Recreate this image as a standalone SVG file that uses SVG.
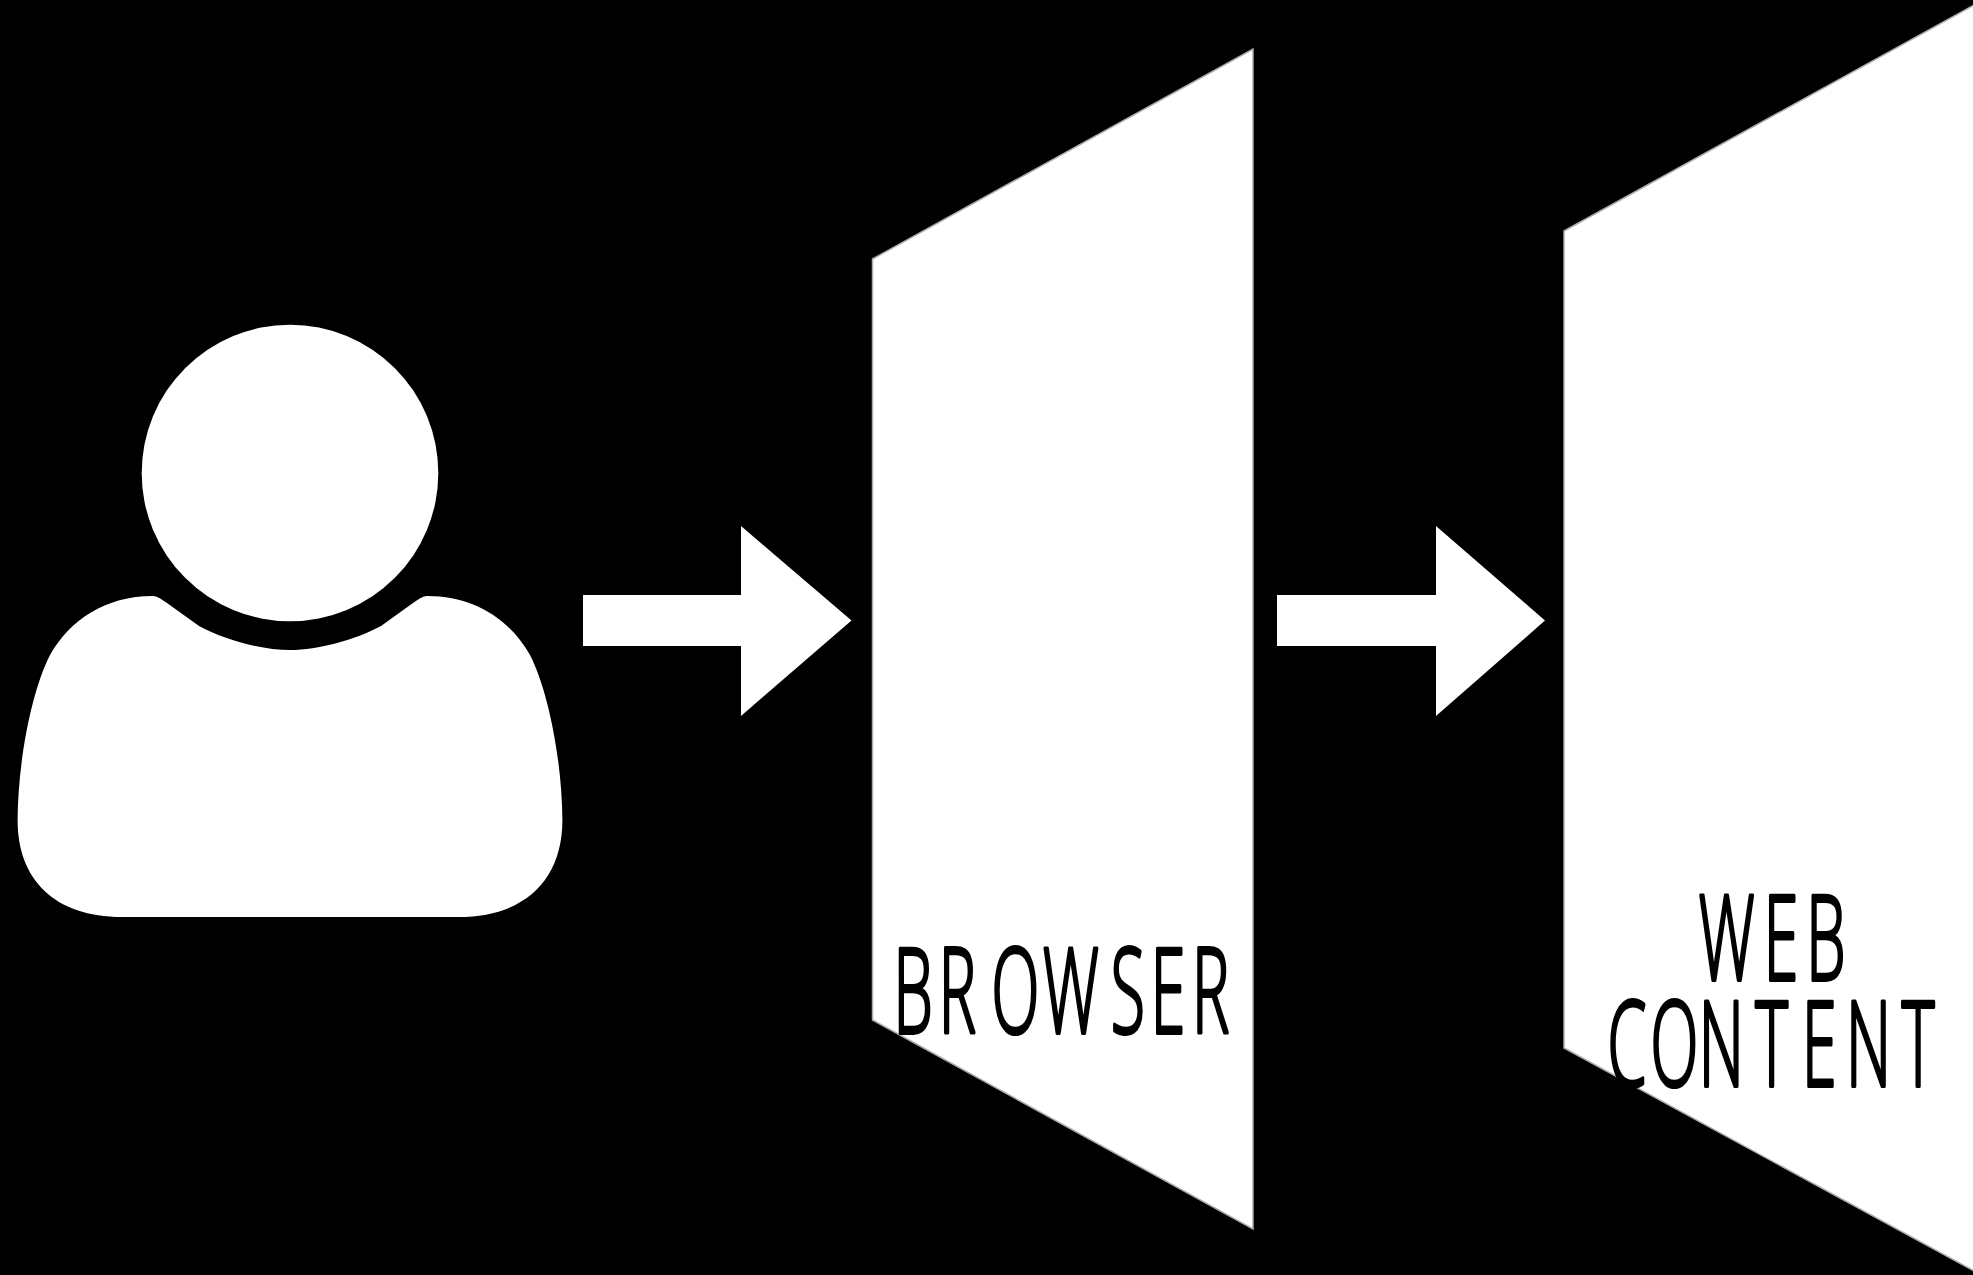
<svg xmlns="http://www.w3.org/2000/svg" width="1973" height="1275" viewBox="0 0 1973 1275">
<style>
.shape{fill:#fff}
.panel{fill:#fff;stroke:#aaa;stroke-width:1.5}
.lbl{font-family:"Open Sans","Liberation Sans",Arial,sans-serif;font-weight:300;font-size:118px;fill:#000;stroke:#000;stroke-width:4;stroke-linejoin:round;stroke-linecap:round}
</style>
<rect width="1973" height="1275" fill="#000"/>
<g id="user">
<circle class="shape" cx="290" cy="473" r="148.300"/>
<path class="shape" d="M153 596 C157 596 161 599 167 603 L199 626 C225 640 262 650 290 650 C318 650 355 640 381 626 L413 603 C419 599 423 596 427 596 C475 596 510 620 530 655 C548 690 562 760 562.400 820 C562.400 880 525 917 458 917 L122 917 C55 917 17.600 880 17.600 820 C18 760 32 690 50 655 C70 620 105 596 153 596 Z"/>
</g>
<g id="browser">
<polygon class="panel" points="872.500,259 1253,49 1253,1229 872.500,1020"/>
<text class="lbl" transform="translate(0,1033) scale(.53,1)" x="1686 1771 1871 1968 2096 2171 2249">BROWSER</text>
</g>
<g id="web-content">
<polygon class="panel" points="1564,231 1974,5 1974,1271 1564,1048"/>
<text class="lbl" transform="translate(0,980) scale(.53,1)" x="3205 3328 3408">WEB</text>
<text class="lbl" transform="translate(0,1086) scale(.53,1)" x="3033 3114 3205 3312 3400 3483 3588">CONTENT</text>
</g>
<g id="connectors">
<polygon class="shape" points="583,595 741,595 741,526 851.500,620.500 741,716 741,646 583,646"/>
<polygon class="shape" points="1277,595 1436,595 1436,526 1545,620.500 1436,716 1436,646 1277,646"/>
</g>
</svg>
